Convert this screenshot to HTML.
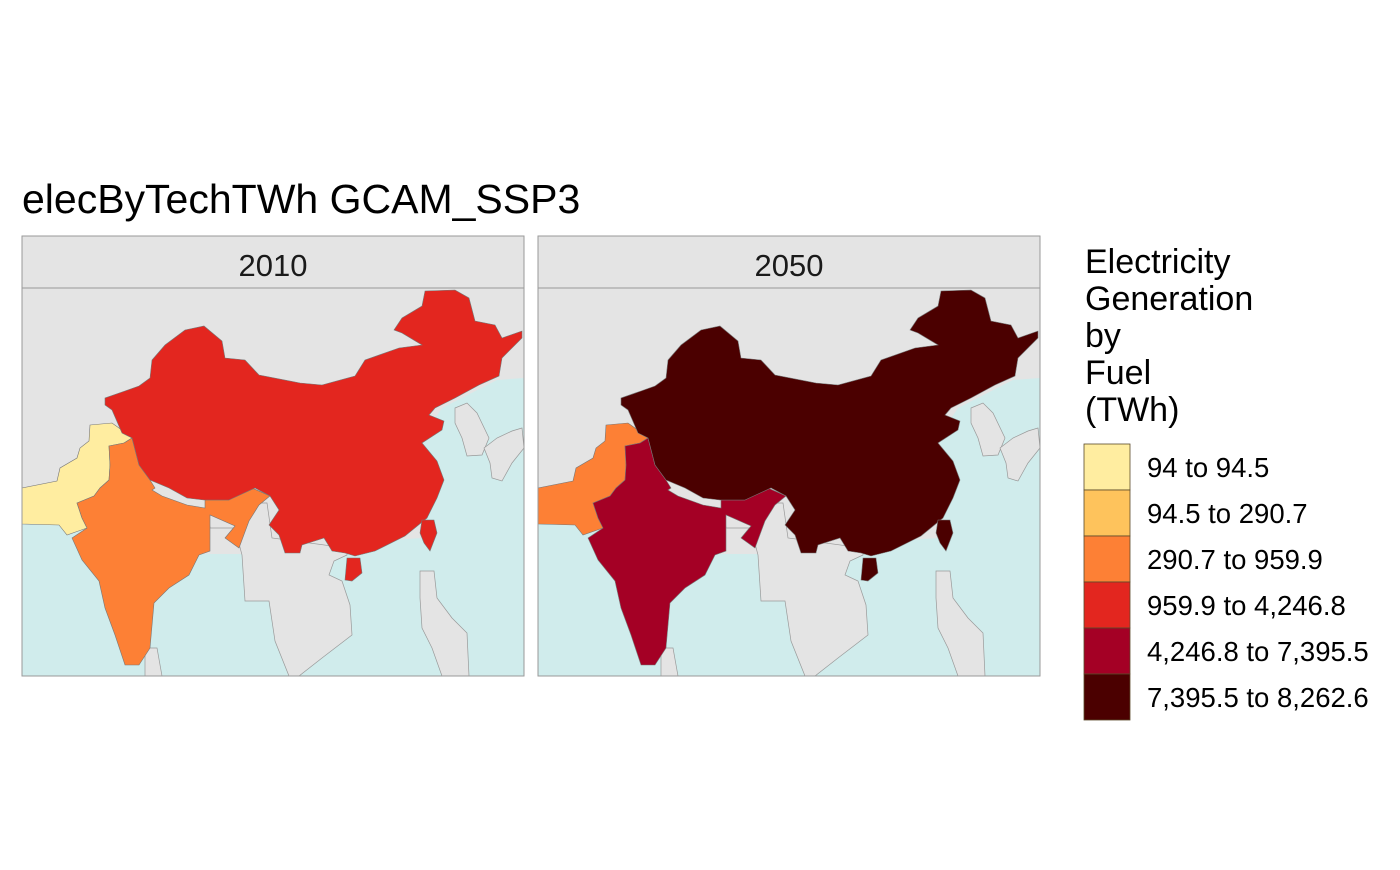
<!DOCTYPE html>
<html><head><meta charset="utf-8"><style>
body{margin:0;background:#fff;font-family:"Liberation Sans",Arial,sans-serif}
svg text{font-family:"Liberation Sans",Arial,sans-serif}
</style></head><body>
<svg id="chart" width="1400" height="865" xmlns="http://www.w3.org/2000/svg">
<rect width="1400" height="865" fill="#fff"/>
<text x="22" y="213" font-size="41" fill="#000">elecByTechTWh GCAM_SSP3</text>
<g id="panels"></g>
<g id="legend">
<text x="1085" y="273" font-size="34">Electricity</text>
<text x="1085" y="310" font-size="34">Generation</text>
<text x="1085" y="347" font-size="34">by</text>
<text x="1085" y="384" font-size="34">Fuel</text>
<text x="1085" y="421" font-size="34">(TWh)</text>
</g>
</svg>
<script>
const years = ["2010", "2050"];
const regions = ["Pakistan", "India", "China"];
const values2010 = [94.3, 900, 4200];
const values2050 = [500, 5000, 8000];
const breaks = [94, 94.5, 290.7, 959.9, 4246.8, 7395.5, 8262.6];
const binLabels = ["94 to 94.5","94.5 to 290.7","290.7 to 959.9","959.9 to 4,246.8","4,246.8 to 7,395.5","7,395.5 to 8,262.6"];
const binColors = ["#ffeda0","#fec35c","#fd8035","#e3261f","#a40025","#4b0000"];

const NS="http://www.w3.org/2000/svg";
function binOf(v){for(let i=1;i<breaks.length;i++){if(v<=breaks[i])return i-1;}return breaks.length-2;}
const shapes={
 sea:"0,236 60,236 60,266 330,266 330,255 400,250 415,195 400,150 420,120 475,92 502,90 502,388 0,388",
 seasia:"185,215 245,215 250,250 325,260 325,267 312,273 307,287 320,293 328,317 330,347 300,370 277,388 267,388 253,353 247,313 223,313 220,267 213,240 188,240",
 sumatra:"123,360 135,360 140,388 123,388",
 korea:"433,120 445,115 455,125 467,150 460,167 445,168 440,150 433,135",
 japan:"462,160 475,150 490,143 500,140 502,160 490,175 480,193 470,190 468,175",
 phil:"398,283 412,283 415,310 430,330 445,345 447,388 420,388 410,360 400,340 398,310",
 taiwan:"400,232 412,232 415,245 408,263 402,255 398,245",
 hainan:"325,270 338,270 340,285 330,293 323,292",
 China:"83,117 83,110 103,103 117,98 128,90 130,72 143,57 163,42 182,38 200,53 203,70 223,72 237,87 278,95 300,97 333,88 343,72 377,60 400,57 380,45 372,42 380,30 400,18 403,3 433,2 447,10 453,33 473,37 480,50 500,43 500,50 480,70 477,88 457,97 433,110 413,120 407,127 422,133 420,142 400,155 415,173 422,192 415,210 405,230 383,248 353,263 333,268 323,265 310,263 302,250 280,257 278,265 263,265 257,247 247,237 257,222 248,208 233,200 207,212 182,212 165,210 147,200 128,192 117,177 110,150 100,145 90,122",
 Pakistan:"68,137 90,135 97,140 110,150 102,155 87,158 88,177 87,192 78,200 72,208 55,215 60,230 65,240 45,247 37,237 0,236 0,200 35,193 38,180 55,170 58,160 67,153",
 India:"87,158 102,155 110,150 117,177 128,192 133,200 130,202 140,208 165,217 183,220 183,212 207,212 230,200 248,208 237,217 227,233 217,260 203,250 213,238 188,227 188,263 177,267 167,287 147,300 132,315 128,360 117,377 103,377 93,347 83,320 77,293 60,272 50,250 65,240 60,230 55,215 72,208 78,200 87,192 88,177"
};
const panelX=[22,538], py=288, pw=502, ph=388;
const panels=document.getElementById('panels');
years.forEach((yr,pi)=>{
 const vals = pi===0?values2010:values2050;
 const g=document.createElementNS(NS,'g');
 
 
 const x0=panelX[pi];
 const strip=document.createElementNS(NS,'rect');
 strip.setAttribute('x',x0);strip.setAttribute('y',236);strip.setAttribute('width',pw);strip.setAttribute('height',52);
 strip.setAttribute('fill','#e4e4e4');strip.setAttribute('stroke','#999');strip.setAttribute('stroke-width','1');
 
 
 g.appendChild(strip);
 const st=document.createElementNS(NS,'text');
 st.setAttribute('x',x0+pw/2);st.setAttribute('y',276);st.setAttribute('font-size','31');st.setAttribute('text-anchor','middle');st.setAttribute('fill','#1a1a1a');
 st.textContent=yr;
 
 
 g.appendChild(st);
 const inner=document.createElementNS(NS,'g');
 inner.setAttribute('transform','translate('+x0+','+py+')');
 const bg=document.createElementNS(NS,'rect');
 bg.setAttribute('width',pw);bg.setAttribute('height',ph);bg.setAttribute('fill','#e4e4e4');
 
 
 inner.appendChild(bg);
 const order=[['sea','#d0ecec'],['seasia','#e4e4e4'],['sumatra','#e4e4e4'],['korea','#e4e4e4'],['japan','#e4e4e4'],['phil','#e4e4e4']];
 order.forEach(([k,c])=>{
  const p=document.createElementNS(NS,'polygon');
  p.setAttribute('points',shapes[k]);p.setAttribute('fill',c);
  p.setAttribute('stroke',k==='sea'?'none':'#999');p.setAttribute('stroke-width','0.7');
  
  
  inner.appendChild(p);
 });
 regions.forEach((r,ri)=>{
  const c=binColors[binOf(vals[ri])];
  const p=document.createElementNS(NS,'polygon');
  p.setAttribute('points',shapes[r]);p.setAttribute('fill',c);p.setAttribute('stroke','#777');p.setAttribute('stroke-width','0.6');
  
  
  inner.appendChild(p);
  if(r==='China'){
   ['taiwan','hainan'].forEach(k=>{
    const q=document.createElementNS(NS,'polygon');
    q.setAttribute('points',shapes[k]);q.setAttribute('fill',c);q.setAttribute('stroke','#777');q.setAttribute('stroke-width','0.6');
    
    
    inner.appendChild(q);
   });
  }
 });
 const fr=document.createElementNS(NS,'rect');
 fr.setAttribute('width',pw);fr.setAttribute('height',ph);fr.setAttribute('fill','none');fr.setAttribute('stroke','#999');
 
 
 inner.appendChild(fr);
 g.appendChild(inner);
 panels.appendChild(g);
});
const leg=document.getElementById('legend');
binLabels.forEach((lab,i)=>{
 const y=444+i*46;
 const r=document.createElementNS(NS,'rect');
 r.setAttribute('x',1084);r.setAttribute('y',y);r.setAttribute('width',46);r.setAttribute('height',46);
 r.setAttribute('fill',binColors[i]);r.setAttribute('stroke','#5a4a2a');r.setAttribute('stroke-width','0.8');
 
 
 leg.appendChild(r);
 const t=document.createElementNS(NS,'text');
 t.setAttribute('x',1147);t.setAttribute('y',y+33);t.setAttribute('font-size','27.5');
 t.textContent=lab;
 
 
 leg.appendChild(t);
});
</script>
</body></html>
